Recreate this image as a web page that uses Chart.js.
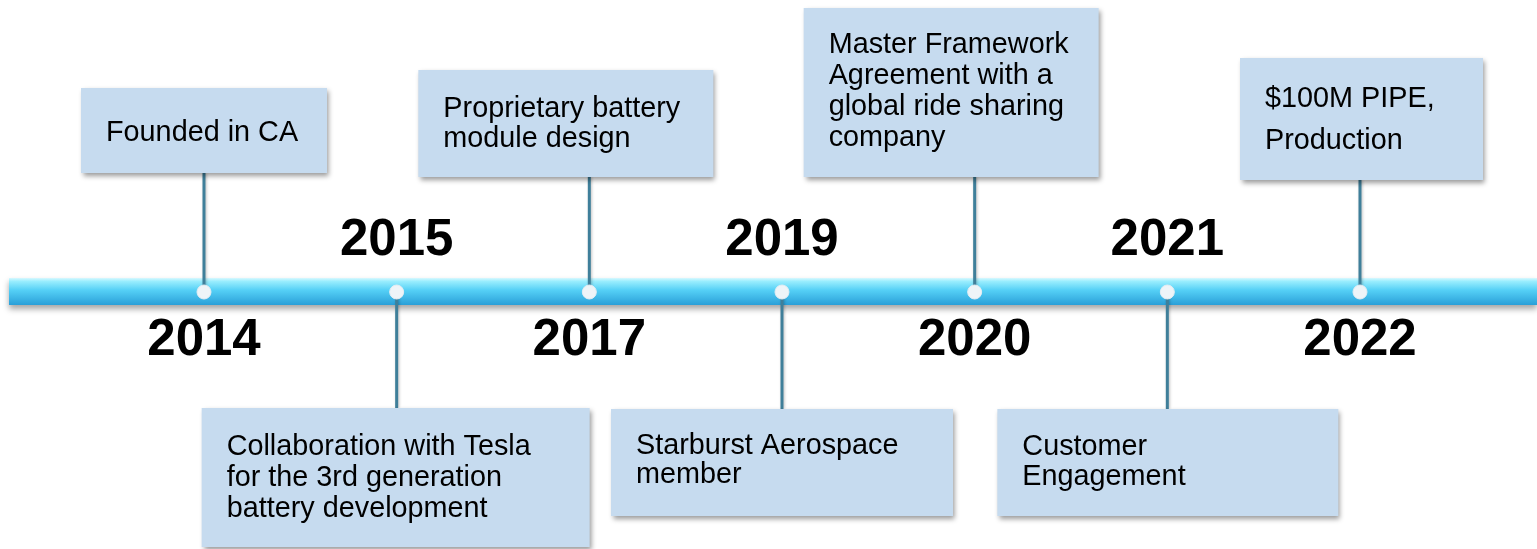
<!DOCTYPE html>
<html lang="en">
<head>
    <meta charset="UTF-8">
    <title>Timeline</title>
    <script src="https://cdn.jsdelivr.net/npm/chart.js"></script>
    <style>
        html, body { margin: 0; padding: 0; background: #ffffff; }
        #wrap { width: 1537px; height: 549px; position: relative; }
    </style>
</head>
<body>
    <div id="wrap">
        <canvas id="timeline"></canvas>
    </div>

    <script>
        // milestones, in order along the bar
        const years = ['2014', '2015', '2017', '2019', '2020', '2021', '2022'];
        const yearSide = ['below', 'above', 'below', 'above', 'below', 'above', 'below'];
        const events = [
            ['Founded in CA'],
            ['Collaboration with Tesla', 'for the 3rd generation', 'battery development'],
            ['Proprietary battery', 'module design'],
            ['Starburst Aerospace', 'member'],
            ['Master Framework', 'Agreement with a', 'global ride sharing', 'company'],
            ['Customer', 'Engagement'],
            ['$100M PIPE,', 'Production']
        ];
        const eventSide = ['up', 'down', 'up', 'down', 'up', 'down', 'up'];

        // box geometry, relative to the milestone dot (dx, dy, width, height, first baseline, line height)
        const boxLayout = [
            { dx: -123, dy: -204, w: 246, h: 85,  base: -151, lh: 31 },
            { dx: -195, dy: 116,  w: 388, h: 139, base: 163,  lh: 31 },
            { dx: -171, dy: -222, w: 295, h: 107, base: -175, lh: 30 },
            { dx: -171, dy: 117,  w: 342, h: 107, base: 162,  lh: 29 },
            { dx: -171, dy: -284, w: 295, h: 169, base: -239, lh: 31 },
            { dx: -170, dy: 117,  w: 341, h: 107, base: 163,  lh: 30 },
            { dx: -120, dy: -234, w: 243, h: 122, base: -185, lh: 42 }
        ];

        const font = '"Liberation Sans", Arial, Helvetica, sans-serif';

        const timelinePlugin = {
            id: 'timeline',
            beforeDatasetsDraw(chart) {
                const ctx = chart.ctx;
                const xs = chart.scales.x, ys = chart.scales.y;
                const y0 = ys.getPixelForValue(0);

                // the bar
                ctx.save();
                ctx.shadowColor = 'rgba(0,0,0,0.35)';
                ctx.shadowBlur = 6;
                ctx.shadowOffsetY = 4;
                const g = ctx.createLinearGradient(0, y0 - 14, 0, y0 + 13);
                g.addColorStop(0, '#d8f8ff');
                g.addColorStop(0.12, '#9aeefe');
                g.addColorStop(0.45, '#55d0f6');
                g.addColorStop(1, '#2a9fd8');
                ctx.fillStyle = g;
                ctx.beginPath();
                ctx.moveTo(9, y0 - 14);
                ctx.lineTo(chart.width, y0 - 14);
                ctx.lineTo(chart.width, y0 + 13);
                ctx.lineTo(9, y0 + 13);
                ctx.closePath();
                ctx.fill();
                ctx.restore();

                // connectors
                ctx.save();
                ctx.strokeStyle = '#3f7f9a';
                ctx.lineWidth = 3;
                ctx.shadowColor = 'rgba(0,0,0,0.25)';
                ctx.shadowBlur = 3;
                ctx.shadowOffsetX = 1;
                years.forEach((yr, i) => {
                    const x = xs.getPixelForValue(i);
                    const b = boxLayout[i];
                    const end = eventSide[i] === 'up' ? y0 + b.dy + b.h : y0 + b.dy;
                    ctx.beginPath();
                    ctx.moveTo(x, end);
                    ctx.lineTo(x, y0);
                    ctx.stroke();
                });
                ctx.restore();
            },
            afterDatasetsDraw(chart) {
                const ctx = chart.ctx;
                const xs = chart.scales.x, ys = chart.scales.y;
                const y0 = ys.getPixelForValue(0);

                events.forEach((lines, i) => {
                    const x = xs.getPixelForValue(i);
                    const b = boxLayout[i];
                    ctx.save();
                    ctx.shadowColor = 'rgba(0,0,0,0.4)';
                    ctx.shadowBlur = 5;
                    ctx.shadowOffsetX = 2;
                    ctx.shadowOffsetY = 3;
                    ctx.fillStyle = '#c6dbef';
                    ctx.fillRect(x + b.dx, y0 + b.dy, b.w, b.h);
                    ctx.restore();

                    ctx.save();
                    ctx.fillStyle = '#000000';
                    ctx.font = '28.8px ' + font;
                    ctx.textAlign = 'left';
                    ctx.textBaseline = 'alphabetic';
                    lines.forEach((t, k) => {
                        ctx.fillText(t, x + b.dx + 25, y0 + b.base + k * b.lh);
                    });
                    ctx.restore();
                });

                // year labels
                ctx.save();
                ctx.fillStyle = '#000000';
                ctx.font = 'bold 51px ' + font;
                ctx.textAlign = 'center';
                ctx.textBaseline = 'alphabetic';
                years.forEach((yr, i) => {
                    const x = xs.getPixelForValue(i);
                    ctx.fillText(yr, x, yearSide[i] === 'above' ? y0 - 37 : y0 + 63);
                });
                ctx.restore();
            }
        };

        window.addEventListener('DOMContentLoaded', () => {
            const ctx = document.getElementById('timeline').getContext('2d');
            new Chart(ctx, {
                type: 'scatter',
                data: {
                    datasets: [{
                        label: 'Milestones',
                        data: years.map((yr, i) => ({ x: i, y: 0 })),
                        pointRadius: 7,
                        pointHoverRadius: 7,
                        pointBackgroundColor: '#eef4f8',
                        pointBorderColor: '#e4edf3',
                        pointBorderWidth: 1
                    }]
                },
                options: {
                    responsive: true,
                    maintainAspectRatio: false,
                    animation: false,
                    layout: { padding: 0, autoPadding: false },
                    plugins: {
                        legend: { display: false },
                        tooltip: { enabled: false }
                    },
                    scales: {
                        x: { type: 'linear', min: -1.0588, max: 6.9187, display: false },
                        y: { type: 'linear', min: -257, max: 292, display: false }
                    }
                },
                plugins: [timelinePlugin]
            });
        });
    </script>
</body>
</html>
